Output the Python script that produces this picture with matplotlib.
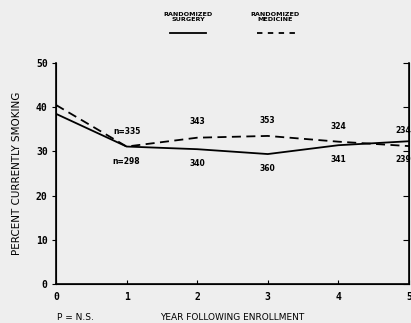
import matplotlib
matplotlib.use("Agg")
import matplotlib.pyplot as plt

years = [0, 1, 2, 3, 4, 5]
surgery = [38.5, 31.1, 30.5, 29.4, 31.4, 32.3]
medicine = [40.5, 31.1, 33.1, 33.5, 32.2, 31.2]
n_surgery = ["n=298", "340", "360", "341", "239"]
n_medicine = ["n=335", "343", "353", "324", "234"]
n_years = [1, 2, 3, 4, 5]
yticks = [0, 10, 20, 30, 40, 50]

bg = "#eeeeee"
fig = plt.figure(figsize=(4.11, 3.23), dpi=100, facecolor=bg)
ax = fig.add_axes([56/411, 1-284/323, (409-56)/411, (284-63)/323])
ax.set_facecolor(bg)

ax.plot(years, surgery, color="black", lw=1.3, solid_joinstyle="miter")
ax.plot(years, medicine, color="black", lw=1.3, dashes=(5, 3))

med_off = {1: 3.4, 2: 3.6, 3: 3.5, 4: 3.5, 5: 3.6}
sur_off = {1: -3.3, 2: -3.2, 3: -3.3, 4: -3.3, 5: -4.2}
for x, lab in zip(n_years, n_medicine):
    xo = x if x < 5 else 4.92
    ax.text(xo, medicine[x] + med_off[x], lab,
            ha="center", va="center", fontsize=5.5, fontweight="bold")
for x, lab in zip(n_years, n_surgery):
    xo = x if x < 5 else 4.92
    ax.text(xo, surgery[x] + sur_off[x], lab, ha="center", va="center",
            fontsize=5.5, fontweight="bold")

ax.set_xlim(0, 5)
ax.set_ylim(0, 50)
ax.set_xticks(years)
ax.set_yticks(yticks)
ax.tick_params(axis="x", direction="in", length=3, labelsize=7, pad=6)
ax.tick_params(axis="y", direction="out", length=3, labelsize=7, pad=3)
for t in ax.get_xticklabels() + ax.get_yticklabels():
    t.set_fontweight("bold")
    t.set_family("DejaVu Sans Mono")
ax.spines["top"].set_visible(False)
for s in ["left", "bottom", "right"]:
    ax.spines[s].set_linewidth(1.2)

# right axis ticks pointing inward
ax2 = ax.twinx()
ax2.set_ylim(0, 50)
ax2.set_yticks(yticks)
ax2.tick_params(axis="y", direction="in", length=4, labelright=False)
ax2.spines["top"].set_visible(False)

ax.set_ylabel("PERCENT CURRENTLY SMOKING", fontsize=7.5, labelpad=10)
fig.text(232/411, 1-318/323, "YEAR FOLLOWING ENROLLMENT", ha="center", va="center", fontsize=6.5)
fig.text(57/411, 1-318/323, "P = N.S.", ha="left", va="center", fontsize=6.5)

# legend
fig.text(188/411, 1-17/323, "RANDOMIZED\nSURGERY", ha="center", va="center",
         fontsize=4.6, fontweight="bold", linespacing=1.1)
fig.text(275/411, 1-17/323, "RANDOMIZED\nMEDICINE", ha="center", va="center",
         fontsize=4.6, fontweight="bold", linespacing=1.1)
fig.add_artist(plt.Line2D([170/411, 206/411], [1-33/323, 1-33/323], color="black", lw=1.3))
fig.add_artist(plt.Line2D([257/411, 296/411], [1-33/323, 1-33/323], color="black", lw=1.3, dashes=(3, 3)))

fig.savefig("out.png", dpi=100, facecolor=bg)
